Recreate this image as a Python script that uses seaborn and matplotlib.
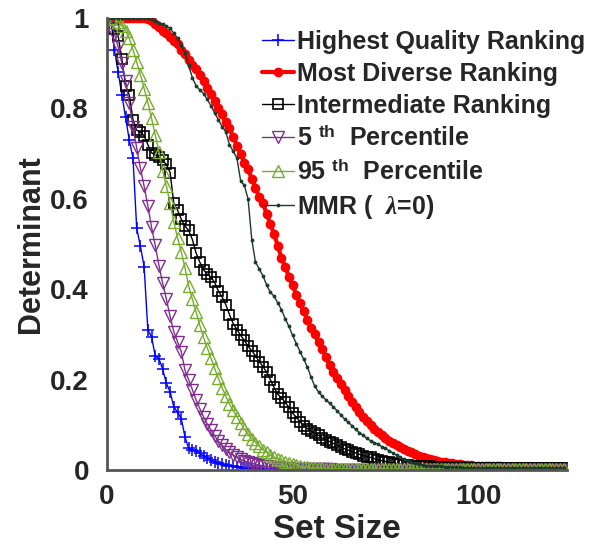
import numpy as np
import matplotlib
matplotlib.use("Agg")
import matplotlib.pyplot as plt
import seaborn as sns

# set sizes 1..123
set_size = np.arange(1, 124)

highest_quality = [
    1.0, 0.93, 0.88, 0.83, 0.78, 0.73, 0.69, 0.535, 0.495, 0.45,
    0.31, 0.295, 0.252, 0.246, 0.223, 0.192, 0.173, 0.14, 0.128, 0.114,
    0.074, 0.048, 0.045, 0.042, 0.037, 0.032, 0.027, 0.023, 0.019, 0.016,
    0.013, 0.011, 0.009, 0.008, 0.007, 0.006, 0.005, 0.004, 0.004, 0.003,
    0.003, 0.002, 0.002, 0.002, 0.002, 0.001, 0.001, 0.001, 0.001, 0.001,
    0.001, 0.001, 0.001, 0.001, 0.001, 0.001, 0.001, 0.001, 0.001, 0.001,
    0.001, 0.001, 0.001, 0.001, 0.001, 0.001, 0.001, 0.001, 0.001, 0.001,
    0.001, 0.001, 0.001, 0.001, 0.001, 0.001, 0.001, 0.001, 0.001, 0.001,
    0.001, 0.001, 0.001, 0.001, 0.001, 0.001, 0.001, 0.001, 0.001, 0.001,
    0.001, 0.001, 0.001, 0.001, 0.001, 0.001, 0.001, 0.001, 0.001, 0.001,
    0.001, 0.001, 0.001, 0.001, 0.001, 0.001, 0.001, 0.001, 0.001, 0.001,
    0.001, 0.001, 0.001, 0.001, 0.001, 0.001, 0.001, 0.001, 0.001, 0.001,
    0.001, 0.001, 0.001]

most_diverse = [
    1.0, 1.0, 1.0, 1.0, 1.0, 1.0, 1.0, 1.0, 1.0, 1.0,
    0.998, 0.993, 0.987, 0.98, 0.972, 0.966, 0.958, 0.95, 0.942, 0.93,
    0.92, 0.908, 0.897, 0.887, 0.874, 0.86, 0.846, 0.833, 0.817, 0.802,
    0.787, 0.769, 0.756, 0.737, 0.717, 0.7, 0.68, 0.665, 0.645, 0.625,
    0.603, 0.59, 0.567, 0.544, 0.523, 0.496, 0.47, 0.45, 0.427, 0.409,
    0.387, 0.369, 0.351, 0.332, 0.314, 0.301, 0.283, 0.267, 0.25, 0.232,
    0.218, 0.204, 0.19, 0.178, 0.163, 0.151, 0.14, 0.128, 0.118, 0.109,
    0.1, 0.092, 0.085, 0.077, 0.07, 0.065, 0.06, 0.055, 0.051, 0.047,
    0.043, 0.039, 0.035, 0.032, 0.029, 0.027, 0.025, 0.023, 0.021, 0.019,
    0.018, 0.016, 0.015, 0.014, 0.013, 0.012, 0.011, 0.011, 0.01, 0.009,
    0.009, 0.009, 0.008, 0.008, 0.008, 0.008, 0.007, 0.007, 0.007, 0.007,
    0.006, 0.006, 0.006, 0.006, 0.006, 0.006, 0.006, 0.006, 0.006, 0.006,
    0.006, 0.006, 0.006]

intermediate = [
    1.0, 0.975, 0.96, 0.91, 0.85, 0.83, 0.775, 0.752, 0.747, 0.74,
    0.72, 0.702, 0.697, 0.692, 0.685, 0.676, 0.658, 0.59, 0.575, 0.555,
    0.54, 0.53, 0.51, 0.48, 0.46, 0.443, 0.433, 0.427, 0.415, 0.396,
    0.383, 0.366, 0.344, 0.324, 0.311, 0.298, 0.287, 0.274, 0.264, 0.253,
    0.24, 0.229, 0.217, 0.2, 0.183, 0.168, 0.16, 0.15, 0.139, 0.126,
    0.117, 0.107, 0.098, 0.092, 0.086, 0.082, 0.077, 0.071, 0.067, 0.063,
    0.059, 0.055, 0.051, 0.047, 0.044, 0.041, 0.038, 0.035, 0.032, 0.03,
    0.028, 0.025, 0.023, 0.021, 0.019, 0.017, 0.016, 0.014, 0.013, 0.012,
    0.011, 0.01, 0.009, 0.009, 0.008, 0.008, 0.008, 0.007, 0.007, 0.007,
    0.007, 0.006, 0.006, 0.006, 0.006, 0.005, 0.005, 0.005, 0.005, 0.005,
    0.005, 0.005, 0.005, 0.005, 0.005, 0.005, 0.005, 0.005, 0.005, 0.005,
    0.005, 0.005, 0.005, 0.005, 0.005, 0.005, 0.005, 0.005, 0.005, 0.005,
    0.005, 0.005, 0.005]

pct_5 = [
    1.0, 0.965, 0.936, 0.9, 0.86, 0.812, 0.76, 0.712, 0.668, 0.628,
    0.585, 0.537, 0.497, 0.452, 0.413, 0.378, 0.34, 0.306, 0.284, 0.262,
    0.221, 0.2, 0.178, 0.155, 0.136, 0.118, 0.102, 0.089, 0.076, 0.064,
    0.055, 0.046, 0.039, 0.033, 0.028, 0.024, 0.02, 0.017, 0.015, 0.013,
    0.011, 0.009, 0.008, 0.007, 0.006, 0.005, 0.005, 0.004, 0.004, 0.003,
    0.003, 0.003, 0.002, 0.002, 0.002, 0.002, 0.002, 0.002, 0.002, 0.002,
    0.001, 0.001, 0.001, 0.001, 0.001, 0.001, 0.001, 0.001, 0.001, 0.001,
    0.001, 0.001, 0.001, 0.001, 0.001, 0.001, 0.001, 0.001, 0.001, 0.001,
    0.001, 0.001, 0.001, 0.001, 0.001, 0.001, 0.001, 0.001, 0.001, 0.001,
    0.001, 0.001, 0.001, 0.001, 0.001, 0.001, 0.001, 0.001, 0.001, 0.001,
    0.001, 0.001, 0.001, 0.001, 0.001, 0.001, 0.001, 0.001, 0.001, 0.001,
    0.001, 0.001, 0.001, 0.001, 0.001, 0.001, 0.001, 0.001, 0.001, 0.001,
    0.001, 0.001, 0.001]

pct_95 = [
    1.0, 0.998, 0.992, 0.983, 0.972, 0.955, 0.93, 0.902, 0.875, 0.844,
    0.813, 0.778, 0.741, 0.704, 0.662, 0.628, 0.59, 0.549, 0.514, 0.483,
    0.448, 0.407, 0.378, 0.35, 0.32, 0.294, 0.271, 0.248, 0.225, 0.203,
    0.182, 0.164, 0.146, 0.132, 0.118, 0.104, 0.091, 0.079, 0.069, 0.061,
    0.053, 0.045, 0.039, 0.033, 0.028, 0.025, 0.022, 0.019, 0.016, 0.014,
    0.011, 0.009, 0.007, 0.006, 0.005, 0.005, 0.004, 0.004, 0.003, 0.003,
    0.003, 0.003, 0.003, 0.003, 0.003, 0.002, 0.002, 0.002, 0.002, 0.002,
    0.002, 0.002, 0.002, 0.002, 0.002, 0.002, 0.002, 0.002, 0.002, 0.002,
    0.002, 0.002, 0.002, 0.002, 0.002, 0.002, 0.002, 0.002, 0.002, 0.002,
    0.002, 0.002, 0.002, 0.002, 0.002, 0.002, 0.002, 0.002, 0.002, 0.002,
    0.002, 0.002, 0.002, 0.002, 0.002, 0.002, 0.002, 0.002, 0.002, 0.002,
    0.002, 0.002, 0.002, 0.002, 0.002, 0.002, 0.002, 0.002, 0.002, 0.002,
    0.002, 0.002, 0.002]

mmr = [
    1.0, 1.0, 1.0, 1.0, 1.0, 1.0, 1.0, 1.0, 1.0, 1.0,
    0.999, 0.997, 0.994, 0.99, 0.986, 0.982, 0.977, 0.966, 0.956, 0.94,
    0.922, 0.895, 0.868, 0.85, 0.841, 0.833, 0.82, 0.806, 0.79, 0.775,
    0.76, 0.748, 0.72, 0.705, 0.69, 0.64, 0.63, 0.6, 0.51, 0.46,
    0.445, 0.43, 0.41, 0.393, 0.385, 0.37, 0.355, 0.335, 0.318, 0.298,
    0.28, 0.262, 0.245, 0.228, 0.205, 0.185, 0.173, 0.163, 0.155, 0.148,
    0.14, 0.131, 0.122, 0.113, 0.106, 0.098, 0.09, 0.083, 0.077, 0.07,
    0.065, 0.061, 0.057, 0.052, 0.048, 0.043, 0.038, 0.033, 0.028, 0.024,
    0.02, 0.017, 0.015, 0.013, 0.011, 0.01, 0.009, 0.009, 0.008, 0.008,
    0.007, 0.007, 0.007, 0.006, 0.006, 0.005, 0.005, 0.005, 0.005, 0.005,
    0.005, 0.005, 0.005, 0.005, 0.005, 0.005, 0.005, 0.005, 0.005, 0.005,
    0.005, 0.005, 0.005, 0.005, 0.005, 0.005, 0.005, 0.005, 0.005, 0.005,
    0.005, 0.005, 0.005]

labels = ["Highest Quality Ranking", "Most Diverse Ranking", "Intermediate Ranking",
          r"5 $^{\mathbf{th}}$  Percentile", r"95 $^{\mathbf{th}}$  Percentile",
          r"MMR (  $\lambda$=0)"]

sns.set_style("white")
plt.rcParams['font.family'] = ['Liberation Sans', 'DejaVu Sans']
plt.rcParams['font.weight'] = 'bold'
plt.rcParams['mathtext.fontset'] = 'custom'
plt.rcParams['mathtext.bf'] = 'Liberation Sans:bold'
plt.rcParams['mathtext.rm'] = 'Liberation Sans:bold'
plt.rcParams['mathtext.it'] = 'Liberation Serif:italic'

fig = plt.figure(figsize=(6.08, 5.46), dpi=100)
ax = fig.add_axes([0.176, 0.139, 0.757, 0.828])

# seaborn puts white marker edges by default, so give each series its edge colour
sns.lineplot(x=set_size, y=highest_quality, ax=ax, color="#0000ff", lw=1,
             marker="+", markersize=9, mec="#0000ff", markeredgewidth=1.1,
             label=labels[0])
sns.lineplot(x=set_size, y=most_diverse, ax=ax, color="#ff0000", lw=3,
             marker="o", markersize=7, mec="#ff0000", markeredgewidth=0,
             label=labels[1])
sns.lineplot(x=set_size, y=intermediate, ax=ax, color="black", lw=1,
             marker="s", markersize=7, mfc="none", mec="black", markeredgewidth=1.2,
             label=labels[2])
sns.lineplot(x=set_size, y=pct_5, ax=ax, color="#7e2f8e", lw=1,
             marker="v", markersize=9, mfc="none", mec="#7e2f8e", markeredgewidth=1,
             label=labels[3])
sns.lineplot(x=set_size, y=pct_95, ax=ax, color="#77ac30", lw=1,
             marker="^", markersize=9, mfc="none", mec="#77ac30", markeredgewidth=1,
             label=labels[4])
sns.lineplot(x=set_size, y=mmr, ax=ax, color="#1b3a2a", lw=1,
             marker=".", markersize=4, mec="#1b3a2a", label=labels[5])

ax.set_xlim(0, 124)
ax.set_ylim(0, 1)
ax.set_xticks([0, 50, 100])
ax.set_yticks([0, 0.2, 0.4, 0.6, 0.8, 1])
ax.set_yticklabels(["0", "0.2", "0.4", "0.6", "0.8", "1"])
ax.tick_params(direction="in", length=5, width=1, color="#555555",
               labelsize=20, labelcolor="#262626")
ax.tick_params(axis="y", pad=13)
ax.tick_params(axis="x", pad=10)
for t in ax.get_xticklabels() + ax.get_yticklabels():
    t.set_fontweight("bold")
sns.despine(ax=ax)
for s in ["left", "bottom"]:
    ax.spines[s].set_color("#555555")
    ax.spines[s].set_linewidth(2)

ax.set_xlabel("Set Size", fontsize=24, fontweight="bold", color="#262626", labelpad=3)
ax.set_ylabel("Determinant", fontsize=22, fontweight="bold", color="#262626", labelpad=3)

leg = ax.legend(loc="upper right", bbox_to_anchor=(598 / 608, 1 - 17 / 546),
                bbox_transform=fig.transFigure, frameon=False,
                prop={"size": 18, "weight": "bold"}, handlelength=1.25,
                handletextpad=0.15, labelspacing=0.32, borderpad=0)

fig.savefig("out.png", dpi=100)
